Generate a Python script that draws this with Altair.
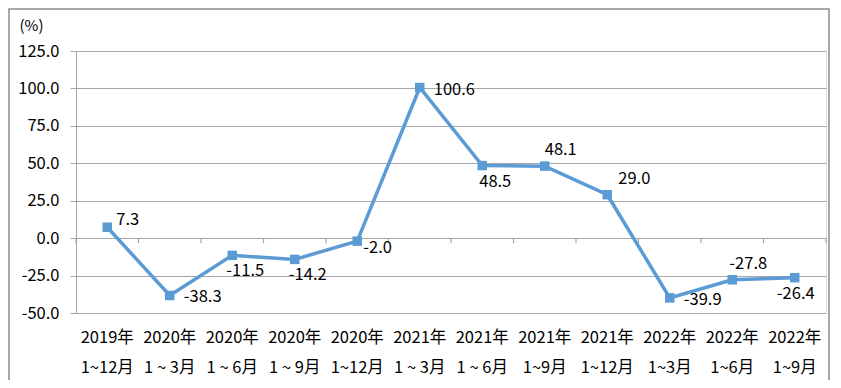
import altair as alt
import pandas as pd

periods = ["2019年\n1~12月", "2020年\n1 ~ 3月", "2020年\n1 ~ 6月", "2020年\n1 ~ 9月",
           "2020年\n1~12月", "2021年\n1 ~ 3月", "2021年\n1 ~ 6月", "2021年\n1~9月",
           "2021年\n1~12月", "2022年\n1~3月", "2022年\n1~6月", "2022年\n1~9月"]
values = [7.3, -38.3, -11.5, -14.2, -2.0, 100.6, 48.5, 48.1, 29.0, -39.9, -27.8, -26.4]
placement = ["ru", "r", "b", "b", "rd", "r", "b", "a", "ur", "r", "a", "bl"]
y_ticks = [-50, -25, 0, 25, 50, 75, 100, 125]

df = pd.DataFrame({"period": periods, "value": values, "place": placement})

FONT = "Noto Sans CJK SC"
BLUE = "#5B9BD5"
GRID = "#A6A6A6"
W, H = 750, 262

xscale = alt.Scale(type="band", paddingInner=0, paddingOuter=0)
yscale = alt.Scale(domain=[-50, 125], nice=False, zero=False)

y_axis = alt.Axis(values=y_ticks,
                  labelExpr="replace(format(datum.value, '.1f'), '\u2212', '-')",
                  grid=True, gridColor=GRID, gridWidth=1,
                  tickColor=GRID, tickSize=6, domainColor=GRID,
                  labelPadding=11, labelFontSize=16.5, labelColor="#000000", labelFont=FONT,
                  title="(%)", titleAngle=0, titleX=-45, titleY=-26,
                  titleAlign="center", titleBaseline="middle",
                  titleFontWeight="normal", titleFontSize=15, titleFont=FONT, titleColor="#000000")

x_main = alt.Axis(labelAngle=0, ticks=False, domain=False, grid=False,
                  labelExpr="split(datum.label, '\\n')",
                  labelFontSize=16.5, labelFont=FONT, labelColor="#000000",
                  labelLineHeight=30, labelPadding=16, labelBaseline="top", title=None)

base = alt.Chart(df)

line = base.mark_line(color=BLUE, strokeWidth=3.5).encode(
    x=alt.X("period:N", sort=periods, scale=xscale, axis=x_main),
    y=alt.Y("value:Q", scale=yscale, axis=y_axis),
)

pts = base.mark_point(shape="square", filled=True, size=90, color=BLUE, opacity=1).encode(
    x=alt.X("period:N", sort=periods, scale=xscale, axis=x_main),
    y=alt.Y("value:Q", scale=yscale, axis=y_axis),
)

# category tick marks hanging below the zero line, at band edges (rules from 0 down 5px)
ticks_start = base.mark_rule(color=GRID, strokeWidth=1.2, opacity=1).encode(
    x=alt.X("period:N", sort=periods, scale=xscale, axis=x_main, bandPosition=0),
    y=alt.Y(datum=0, scale=yscale, axis=y_axis),
    y2=alt.Y2(datum=-3.4),
)
ticks_end = base.transform_filter(alt.datum.period == periods[-1]).mark_rule(
    color=GRID, strokeWidth=1.2, opacity=1).encode(
    x=alt.X("period:N", sort=periods, scale=xscale, axis=x_main, bandPosition=1),
    y=alt.Y(datum=0, scale=yscale, axis=y_axis),
    y2=alt.Y2(datum=-3.4),
)

offs = {"r": ("left", 14, 2), "ru": ("left", 9, -7), "rd": ("left", 6, 7),
        "ur": ("left", 11, -16), "b": ("center", 13, 16), "bl": ("center", 1, 16),
        "a": ("center", 16, -16)}

texts = []
for key, (al, dx, dy) in offs.items():
    t = base.transform_filter(alt.datum.place == key).transform_calculate(
        lbl="replace(format(datum.value, '.1f'), '\u2212', '-')"
    ).mark_text(align=al, baseline="middle", dx=dx, dy=dy, fontSize=16.5, font=FONT,
                color="#000000").encode(
        x=alt.X("period:N", sort=periods, scale=xscale, axis=x_main),
        y=alt.Y("value:Q", scale=yscale, axis=y_axis),
        text="lbl:N",
    )
    texts.append(t)

border = alt.Chart(pd.DataFrame({"a": [0]})).mark_rect(
    filled=False, stroke="#8C8C8C", strokeWidth=1.5).encode(
    x=alt.value(-67), x2=alt.value(753), y=alt.value(-42), y2=alt.value(331))

chart = alt.layer(border, ticks_start, ticks_end, line, pts, *texts).properties(
    width=W, height=H, autosize=alt.AutoSizeParams(type="none"),
    padding={"left": 68, "top": 43, "right": 7, "bottom": 67},
).configure_view(stroke=None).configure(background="white")

chart.save("out.html", embed_options={"renderer": "svg", "actions": False})
